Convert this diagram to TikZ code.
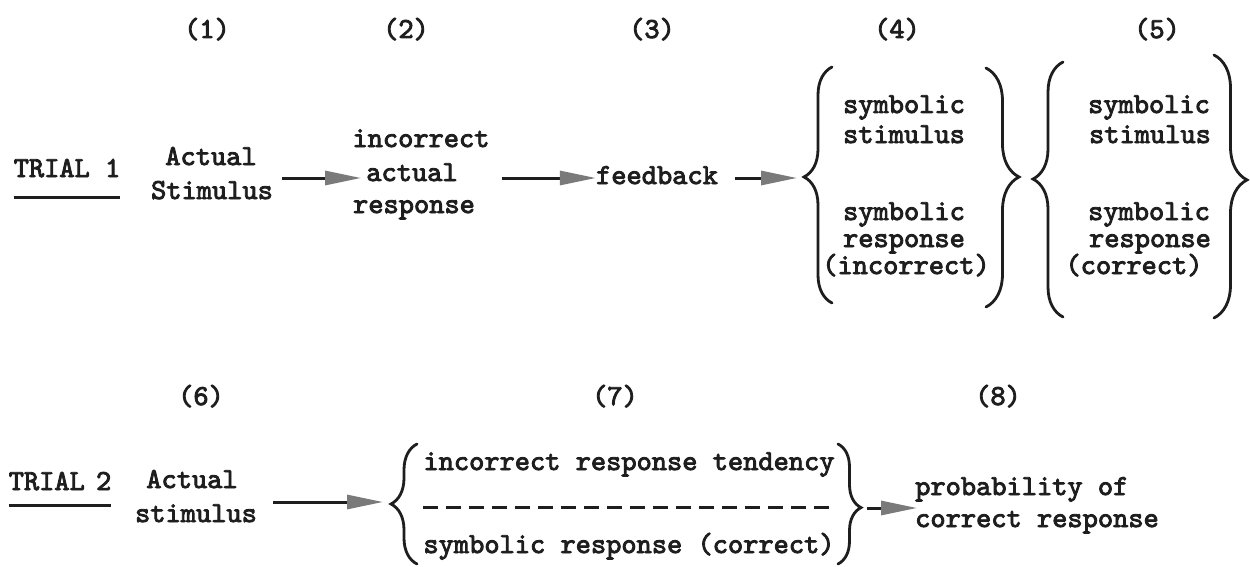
\documentclass[tikz,border=0pt]{standalone}
\usepackage{fontspec}
\usetikzlibrary{arrows.meta,decorations.pathreplacing}
\newfontfamily\typew{lmmono10-regular.otf}[FakeBold=3]
\definecolor{ink}{HTML}{1E1E1E}
\definecolor{headgray}{HTML}{7A7A7A}
\begin{document}
\begin{tikzpicture}[x=1pt,y=-1pt,
  txt/.style={font=\typew\fontsize{29}{34}\selectfont, text=ink, inner sep=0pt, anchor=base},
  txtl/.style={txt, anchor=base west},
  arr/.style={draw=ink, line width=3pt, -{Triangle[length=36pt,width=14pt,color=headgray]}},
  brc/.style 2 args={draw=ink, line width=2.8pt, line cap=round, decorate,
    decoration={brace, amplitude=#1, aspect=#2}},
  uline/.style={draw=ink, line width=3pt},
  dashrule/.style={draw=ink, line width=3pt, dash pattern=on 15pt off 8pt}]
\fill[white] (0,0) rectangle (1250,567);
\useasboundingbox (0,0) rectangle (1250,567);

% step numbers
\node[txt] (n1) at (207,38) {(1)};
\node[txt] (n2) at (406,38) {(2)};
\node[txt] (n3) at (652,38) {(3)};
\node[txt] (n4) at (897,38) {(4)};
\node[txt] (n5) at (1157,38) {(5)};
\node[txt] (n6) at (201,405) {(6)};
\node[txt] (n7) at (615,405) {(7)};
\node[txt] (n8) at (998,405) {(8)};

% ---------- trial 1 ----------
\coordinate (r1) at (0,178);
\node[txt] (t1) at (67,177) {TRIAL 1};
\draw[uline] ([yshift=-20pt]t1.base west) -- ([yshift=-20pt]t1.base east);

\node[txt] (a1a) at (211,165) {Actual};
\node[txt] (a1b) at (212,199) {Stimulus};

\node[txt] (i1) at (421,147) {incorrect};
\node[txt] (i2) at (412,181) {actual};
\node[txt] (i3) at (414,213) {response};

\node[txt] (fb) at (657,184) {feedback};

\node[txt] (s4a) at (904,113) {symbolic};
\node[txt] (s4b) at (904,143) {stimulus};
\node[txt] (s4c) at (904,220) {symbolic};
\node[txt] (s4d) at (904,247) {response};
\node[txt] (s4e) at (906,274) {(incorrect)};

\node[txt] (s5a) at (1149,113) {symbolic};
\node[txt] (s5b) at (1150,143) {stimulus};
\node[txt] (s5c) at (1149,220) {symbolic};
\node[txt] (s5d) at (1150,247) {response};
\node[txt] (s5e) at (1134,274) {(correct)};

% braces of steps 4 and 5
\coordinate (b4tip) at (804,178);
\draw[brc={28pt}{0.534}] (832,303) -- (832,67);
\draw[brc={33pt}{0.456}] (986,68) -- (986,307);
\draw[brc={30pt}{0.541}] (1063,317) -- (1063,62);
\draw[brc={33pt}{0.475}] (1214,55) -- (1214,318);

\draw[arr, shorten <=9pt, shorten >=5pt] (a1b.east |- r1) -- (i2.west |- r1);
\draw[arr, shorten <=12pt] (i1.east |- r1) -- (fb.west |- r1);
\draw[arr, shorten <=17pt, shorten >=7pt] (fb.east |- r1) -- (b4tip);

% ---------- trial 2 ----------
\node[txt] (t2) at (60,490) {TRIAL\kern-4pt\ 2};
\draw[uline] ([yshift=-15pt]t2.base west) -- ([yshift=-15pt]t2.base east);

\node[txt] (a2a) at (192,488) {Actual};
\node[txt] (a2b) at (196,522) {stimulus};

\node[txt] (s7a) at (629,470) {incorrect response tendency};
\node[txt] (s7b) at (629,553) {symbolic response (correct)};
\coordinate (dl) at (0,507);
\draw[dashrule] (s7a.west |- dl) -- (s7a.east |- dl);

\coordinate (b7ltip) at (391,502);
\coordinate (b7rtip) at (861,508);
\draw[brc={26pt}{0.5}] (417,564) -- (417,444);
\draw[brc={23pt}{0.53}] (838,444) -- (838,564);

\node[txtl] (p1) at (915,495) {probability of};
\node[txtl] (p2) at (915,527) {correct response};

\draw[arr, shorten <=16pt, shorten >=8pt] (a2b.east |- b7ltip) -- (b7ltip);
\draw[arr, shorten <=6pt, shorten >=-2pt] (b7rtip) -- (p2.west |- b7rtip);
\end{tikzpicture}
\end{document}
